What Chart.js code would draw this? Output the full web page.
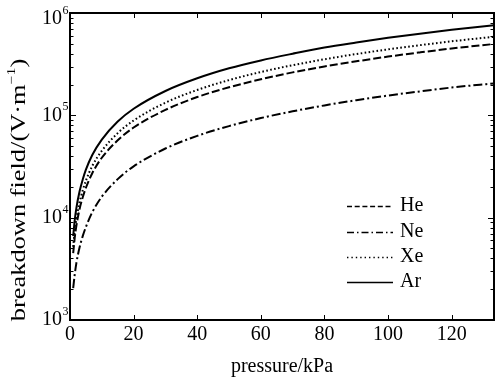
<!DOCTYPE html>
<html>
<head>
<meta charset="utf-8">
<script src="https://cdn.jsdelivr.net/npm/chart.js@4/dist/chart.umd.min.js"></script>
<style>
  html, body { margin: 0; padding: 0; background: #fff; }
  #wrap { width: 496px; height: 380px; }
</style>
</head>
<body>
<div id="wrap"><canvas id="c" width="496" height="380"></canvas></div>
<script>
// pressure in kPa
const pressure = [1, 1.5, 2, 3, 4, 5, 7, 10, 15, 20, 30, 40, 50, 60, 70, 80, 90, 100, 110, 120, 133.3];

// breakdown field in V/m
const fieldHe = [4.5e3, 6.4e3, 8.3e3, 1.21e4, 1.58e4, 1.96e4, 2.72e4, 3.85e4, 5.7e4, 7.6e4, 1.13e5, 1.51e5, 1.88e5, 2.25e5, 2.63e5, 3.0e5, 3.37e5, 3.75e5, 4.12e5, 4.5e5, 4.98e5];
const fieldNe = [2.05e3, 2.8e3, 3.6e3, 5.1e3, 6.6e3, 8.1e3, 1.13e4, 1.6e4, 2.38e4, 3.17e4, 4.74e4, 6.3e4, 7.85e4, 9.4e4, 1.095e5, 1.25e5, 1.405e5, 1.56e5, 1.715e5, 1.87e5, 2.05e5];
const fieldXe = [5.2e3, 7.5e3, 9.7e3, 1.41e4, 1.85e4, 2.3e4, 3.2e4, 4.5e4, 6.7e4, 8.9e4, 1.33e5, 1.77e5, 2.21e5, 2.65e5, 3.09e5, 3.53e5, 3.97e5, 4.41e5, 4.85e5, 5.29e5, 5.86e5];
const fieldAr = [6.6e3, 9.5e3, 1.24e4, 1.8e4, 2.36e4, 2.95e4, 4.1e4, 5.8e4, 8.7e4, 1.16e5, 1.73e5, 2.3e5, 2.88e5, 3.44e5, 4.0e5, 4.6e5, 5.15e5, 5.72e5, 6.28e5, 6.85e5, 7.6e5];

const xTicks = [0, 20, 40, 60, 80, 100, 120];
const yDecades = [3, 4, 5, 6];
const gasNames = ['He', 'Ne', 'Xe', 'Ar'];

const dashes = {
  He: [8, 3],
  Ne: [9, 3, 2, 3],
  Xe: [1.6, 2.4],
  Ar: []
};
const legendDashes = {
  He: [5, 2.7],
  Ne: [7, 3, 1.5, 3],
  Xe: [1.4, 3],
  Ar: []
};

const FONT = '"Liberation Serif", "Times New Roman", serif';

function series(name, vals) {
  return {
    label: name,
    data: pressure.map((p, i) => ({ x: p, y: vals[i] })),
    borderColor: '#000',
    borderWidth: 2,
    borderDash: dashes[name],
    pointRadius: 0,
    fill: false,
    cubicInterpolationMode: 'monotone'
  };
}

// axes box, ticks, labels, titles, legend
const decor = {
  id: 'decor',
  afterDraw(chart) {
    const c = chart.ctx;
    const a = chart.chartArea;
    const xs = chart.scales.x, ys = chart.scales.y;
    c.save();
    c.strokeStyle = '#000';
    c.fillStyle = '#000';

    // ticks
    c.lineWidth = 1;
    c.beginPath();
    xTicks.forEach(t => {
      const px = Math.round(xs.getPixelForValue(t)) + 0.5;
      c.moveTo(px, a.bottom); c.lineTo(px, a.bottom - 5);
      c.moveTo(px, a.top); c.lineTo(px, a.top + 5);
    });
    yDecades.forEach(d => {
      const py = Math.round(ys.getPixelForValue(Math.pow(10, d))) + 0.5;
      c.moveTo(a.left, py); c.lineTo(a.left + 6, py);
      c.moveTo(a.right, py); c.lineTo(a.right - 6, py);
      if (d < 6) {
        for (let m = 2; m <= 9; m++) {
          const pm = Math.round(ys.getPixelForValue(m * Math.pow(10, d))) + 0.5;
          c.moveTo(a.left, pm); c.lineTo(a.left + 3.5, pm);
          c.moveTo(a.right, pm); c.lineTo(a.right - 3.5, pm);
        }
      }
    });
    c.stroke();

    // box
    c.lineWidth = 2;
    c.strokeRect(a.left, a.top, a.right - a.left, a.bottom - a.top);

    // x tick labels
    c.font = '20px ' + FONT;
    c.textAlign = 'center';
    c.textBaseline = 'middle';
    xTicks.forEach(t => {
      c.fillText(String(t), xs.getPixelForValue(t), a.bottom + 15);
    });

    // y tick labels 10^n
    yDecades.forEach(d => {
      let py = ys.getPixelForValue(Math.pow(10, d));
      if (py < a.top + 6) py = a.top + 6;
      c.font = '20px ' + FONT;
      c.textAlign = 'right';
      c.textBaseline = 'middle';
      c.fillText('10', 62, py);
      c.font = '12px ' + FONT;
      c.textAlign = 'left';
      c.fillText(String(d), 62.5, py - 8);
    });

    // axis titles
    c.font = '20px ' + FONT;
    c.textAlign = 'center';
    c.textBaseline = 'middle';
    c.fillText('pressure/kPa', (a.left + a.right) / 2, 367);

    // y title is drawn stretched along its length, as in the original
    c.save();
    c.translate(20, 190);
    c.rotate(-Math.PI / 2);
    c.scale(1.32, 1);
    const t1 = 'breakdown field/(V\u00b7m';
    const w1 = c.measureText(t1).width;
    c.font = '12px ' + FONT;
    const w2 = c.measureText('\u22121').width;
    c.font = '20px ' + FONT;
    const w3 = c.measureText(')').width;
    let x0 = -(w1 + w2 + w3) / 2;
    c.textAlign = 'left';
    c.fillText(t1, x0, 0);
    c.font = '12px ' + FONT;
    c.fillText('\u22121', x0 + w1, -8);
    c.font = '20px ' + FONT;
    c.fillText(')', x0 + w1 + w2, 0);
    c.restore();

    // legend
    const rows = [206, 232, 257, 282];
    gasNames.forEach((g, i) => {
      c.lineWidth = g === 'Ar' ? 1.6 : 1.4;
      c.setLineDash(legendDashes[g]);
      c.beginPath();
      c.moveTo(347, rows[i] + 0.5);
      c.lineTo(393, rows[i] + 0.5);
      c.stroke();
      c.setLineDash([]);
      c.font = '20px ' + FONT;
      c.textAlign = 'left';
      c.textBaseline = 'middle';
      c.fillText(g, 400, rows[i]);
    });

    c.restore();
  }
};

new Chart(document.getElementById('c').getContext('2d'), {
  type: 'line',
  data: {
    datasets: [
      series('He', fieldHe),
      series('Ne', fieldNe),
      series('Xe', fieldXe),
      series('Ar', fieldAr)
    ]
  },
  options: {
    responsive: false,
    animation: false,
    layout: { padding: { left: 70, right: 2, top: 13, bottom: 60 } },
    plugins: { legend: { display: false }, tooltip: { enabled: false } },
    scales: {
      x: { type: 'linear', min: 0, max: 133.3, display: false },
      y: { type: 'logarithmic', min: 1e3, max: 1e6, display: false }
    }
  },
  plugins: [decor]
});
</script>
</body>
</html>
